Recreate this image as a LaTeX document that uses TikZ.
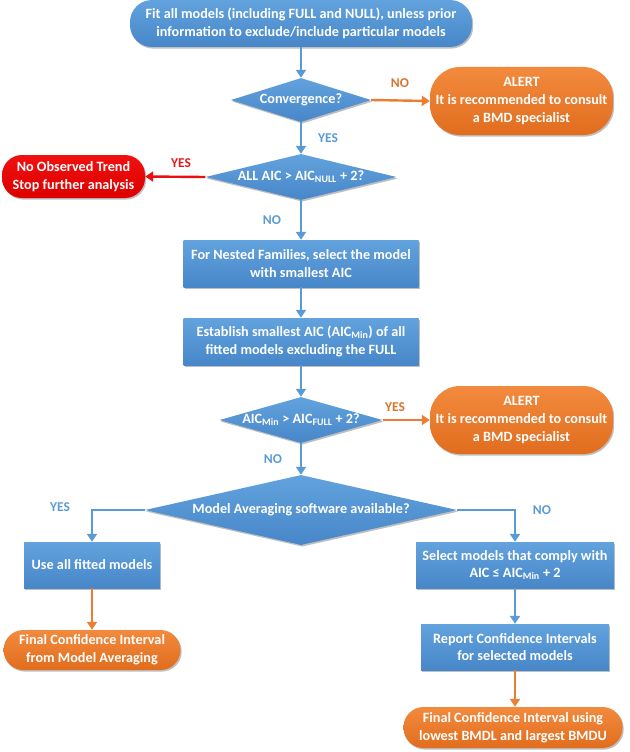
\documentclass[tikz,border=0pt]{standalone}
\usepackage{fontspec}
\setmainfont{Carlito}
\usetikzlibrary{shapes.geometric,arrows.meta,shadows}
\definecolor{bluetop}{HTML}{62A2DD}
\definecolor{bluebot}{HTML}{4787C9}
\definecolor{orgtop}{HTML}{F28A3E}
\definecolor{orgbot}{HTML}{E16D1E}
\definecolor{redtop}{HTML}{F01010}
\definecolor{redbot}{HTML}{DD0000}
\definecolor{bluelab}{HTML}{5B9BD5}
\definecolor{orglab}{HTML}{D9742F}
\definecolor{redlab}{HTML}{E31B1B}
\definecolor{bluearr}{HTML}{5B9BD5}
\definecolor{orgarr}{HTML}{ED7D31}
\definecolor{redarr}{HTML}{E81010}
\tikzset{
  x=1pt, y=-1pt,
  base/.style={inner sep=0pt, text=white, align=center,
    font=\fontsize{14.2}{17.6}\selectfont\bfseries,
    drop shadow={shadow xshift=1.2pt, shadow yshift=-1.6pt, opacity=0.25, fill=black}},
  bluebox/.style={base, rectangle, top color=bluetop, bottom color=bluebot},
  bluedia/.style={base, diamond, top color=bluetop, bottom color=bluebot},
  orgterm/.style={base, rectangle, rounded corners=20pt, top color=orgtop, bottom color=orgbot},
  redterm/.style={base, rectangle, rounded corners=20pt, top color=redtop, bottom color=redbot},
  blueterm/.style={base, rectangle, rounded corners=22pt, top color=bluetop, bottom color=bluebot},
  conn/.style={line width=2.4pt, -{Triangle[width=10pt,length=8pt]}},
  bconn/.style={conn, draw=bluearr},
  oconn/.style={conn, draw=orgarr},
  rconn/.style={conn, draw=redarr},
  lab/.style={font=\fontsize{13.5}{15}\selectfont\bfseries, inner sep=0pt},
}
\begin{document}
\begin{tikzpicture}
\useasboundingbox (0,0) rectangle (629,752);
% nodes
\node[blueterm, minimum width=342pt, minimum height=47pt] (top) at (301,23.5)
  {Fit all models (including FULL and NULL), unless prior\\information to exclude/include particular models};
\node[bluedia, aspect=3.2, minimum width=140pt, minimum height=44pt] (conv) at (301,100) {Convergence?};
\node[orgterm, rounded corners=30pt, minimum width=183pt, minimum height=68pt] (alert1) at (521.5,101)
  {ALERT\\It is recommended to consult\\a BMD specialist};
\node[bluedia, aspect=4.15, minimum width=191pt, minimum height=46pt] (allaic) at (301,177)
  {ALL AIC > AIC\textsubscript{NULL} + 2?};
\node[redterm, minimum width=143pt, minimum height=43pt] (trend) at (73.5,176.5)
  {No Observed Trend\\Stop further analysis};
\node[bluebox, minimum width=235pt, minimum height=47pt] (nested) at (301,263.5)
  {For Nested Families, select the model\\with smallest AIC};
\node[bluebox, minimum width=235pt, minimum height=47pt] (establish) at (301,341.5)
  {Establish smallest AIC (AIC\textsubscript{Min}) of all\\fitted models excluding the FULL};
\node[bluedia, aspect=3.54, minimum width=163pt, minimum height=46pt] (aicmin) at (301,420)
  {AIC\textsubscript{Min} > AIC\textsubscript{FULL} + 2?};
\node[orgterm, rounded corners=30pt, minimum width=183pt, minimum height=68pt] (alert2) at (521.5,420)
  {ALERT\\It is recommended to consult\\a BMD specialist};
\node[bluedia, aspect=4.46, minimum width=312pt, minimum height=70pt] (mas) at (301,510)
  {Model Averaging software available?};
\node[bluebox, minimum width=136pt, minimum height=46pt] (useall) at (92,565) {Use all fitted models};
\node[orgterm, minimum width=177pt, minimum height=40pt] (finalL) at (92,650)
  {Final Confidence Interval\\from Model Averaging};
\node[bluebox, minimum width=198pt, minimum height=46pt] (select) at (515,565)
  {Select models that comply with\\AIC ≤ AIC\textsubscript{Min} + 2};
\node[bluebox, minimum width=188pt, minimum height=46pt] (report) at (515,647)
  {Report Confidence Intervals\\for selected models};
\node[orgterm, minimum width=219pt, minimum height=41pt] (finalR) at (513,727.5)
  {Final Confidence Interval using\\lowest BMDL and largest BMDU};
% connectors
\draw[bconn] (top.south) -- (conv.north);
\draw[oconn] (conv.east) -- (alert1.west);
\draw[bconn] (conv.south) -- (allaic.north);
\draw[rconn] (allaic.west) -- (trend.east);
\draw[bconn] (allaic.south) -- (nested.north);
\draw[bconn] (nested.south) -- (establish.north);
\draw[bconn] (establish.south) -- (aicmin.north);
\draw[oconn] (aicmin.east) -- (alert2.west |- aicmin.east);
\draw[bconn] (aicmin.south) -- (mas.north);
\draw[bconn] (mas.west) -| (useall.north);
\draw[bconn] (mas.east) -| (select.north);
\draw[oconn] (useall.south) -- (finalL.north);
\draw[bconn] (select.south) -- (report.north);
\draw[oconn] (report.south) -- (report.south |- finalR.north);
% labels
\node[lab, text=orglab] (l1) at (400,83) {NO};
\node[lab, text=bluelab] (l2) at (328,138) {YES};
\node[lab, text=redlab] (l3) at (181,163) {YES};
\node[lab, text=bluelab] (l4) at (272,220) {NO};
\node[lab, text=orglab] (l5) at (395,407) {YES};
\node[lab, text=bluelab] (l6) at (273,459) {NO};
\node[lab, text=bluelab] (l7) at (60,507) {YES};
\node[lab, text=bluelab] (l8) at (542,510) {NO};
\end{tikzpicture}
\end{document}
